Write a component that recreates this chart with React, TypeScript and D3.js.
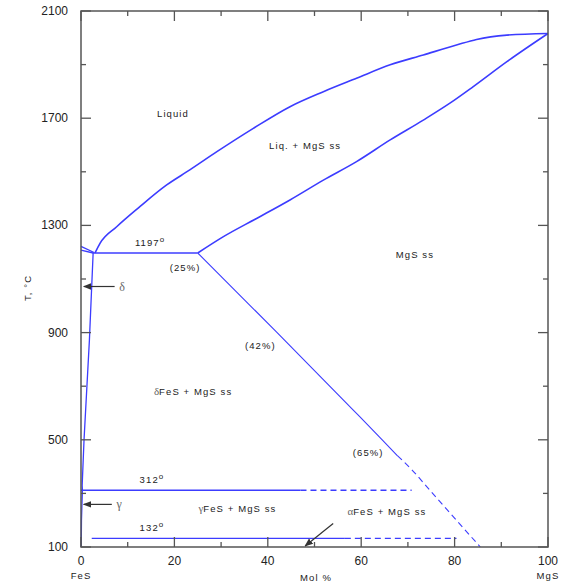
import React from "react";
import * as d3 from "d3";

// ---- data (mol % MgS, temperature °C) ----
const liquidusX = [3.0, 4.07, 7.64, 12.6, 18.35, 23.3, 29.1, 36.9, 44.75, 51.9, 59.0, 66.2, 73.3, 80.4, 84.7, 91.2, 100];
const liquidusT = [1197, 1233, 1295, 1370, 1451, 1507, 1575, 1662, 1743, 1799, 1849, 1899, 1936, 1973, 1994, 2010, 2016];

const solidusX = [25, 30.5, 37.6, 44.75, 51.9, 59.0, 66.2, 73.3, 79.0, 84.0, 91.2, 100];
const solidusT = [1197, 1258, 1326, 1395, 1469, 1538, 1619, 1693, 1756, 1818, 1911, 2016];

const mgsSolvusX = [25, 42, 58.3, 64.5, 67.8];
const mgsSolvusT = [1197, 900, 611, 500, 440];
const mgsSolvusDashX = [67.8, 70.9, 75.0, 85.5];
const mgsSolvusDashT = [440, 387, 306, 100];

const fesLiqX = [0, 2.8];
const fesLiqT = [1222, 1199];
const fesSolX = [0, 2.6];
const fesSolT = [1208, 1197];

const deltaSolvusX = [2.6, 1.8, 0.65, 0.25, 0.3];
const deltaSolvusT = [1197, 872, 500, 330, 312];
const gammaSolvusX = [0.3, 0.1, 0.05];
const gammaSolvusT = [312, 200, 100];

const eutecticX = [2.6, 25];
const eutecticT = 1197;
const t312SolidX = [0, 47];
const t312DashX = [47, 70.8];
const t312T = 312;
const t132SolidX = [2.3, 56.5];
const t132DashX = [56.5, 80.4];
const t132T = 132;

const xTicks = d3.range(0, 101, 10);
const xTickLabels = [0, 20, 40, 60, 80, 100];
const yTicks = d3.range(100, 2101, 200);
const yTickLabels = [100, 500, 900, 1300, 1700, 2100];

export default function App() {
  const W = 565, H = 585;
  const x = d3.scaleLinear().domain([0, 100]).range([81, 548]);
  const y = d3.scaleLinear().domain([100, 2100]).range([547, 11]);
  const line = d3.line<[number, number]>().x(d => x(d[0])).y(d => y(d[1]));
  const curve = d3.line<[number, number]>().x(d => x(d[0])).y(d => y(d[1])).curve(d3.curveMonotoneX);
  const zip = (a: number[], b: number[]) => a.map((v, i) => [v, b[i]] as [number, number]);

  const blue = "#3c3cff";
  const axisC = "#555";
  const font = "'Liberation Sans', Arial, sans-serif";
  const serif = "'Liberation Serif', 'DejaVu Serif', serif";
  const lab = { fontFamily: font, fontSize: 9.5, letterSpacing: 1.1, fill: "#222" } as const;
  const tickFont = { fontFamily: font, fontSize: 12, fill: "#222" } as const;

  const x0 = x(0), x1 = x(100), yTop = y(2100), yBot = y(100);

  return (
    <svg width={W} height={H} style={{ position: "absolute", left: 0, top: 0, background: "#fff" }}>
      <defs>
        <marker id="ah" viewBox="0 0 10 10" refX="9" refY="5" markerWidth="7" markerHeight="7" orient="auto">
          <path d="M0,1 L10,5 L0,9 z" fill="#333" />
        </marker>
      </defs>

      {/* phase boundaries */}
      <g fill="none" stroke={blue} strokeWidth={1.6}>
        <path d={curve(zip(liquidusX, liquidusT))!} />
        <path d={curve(zip(solidusX, solidusT))!} />
        <path d={line(zip(fesLiqX, fesLiqT))!} strokeWidth={1.3} />
        <path d={line(zip(fesSolX, fesSolT))!} strokeWidth={1.3} />
        <path d={line(zip(eutecticX, eutecticX.map(() => eutecticT)))!} />
        <path d={line(zip(deltaSolvusX, deltaSolvusT))!} strokeWidth={1.3} />
        <path d={line(zip(gammaSolvusX, gammaSolvusT))!} strokeWidth={1.3} />
        <path d={curve(zip(mgsSolvusX, mgsSolvusT))!} strokeWidth={1.1} />
        <path d={curve(zip(mgsSolvusDashX, mgsSolvusDashT))!} strokeWidth={1.1} strokeDasharray="6,4" />
        <path d={line(zip(t312SolidX, t312SolidX.map(() => t312T)))!} strokeWidth={1.4} />
        <path d={line(zip(t312DashX, t312DashX.map(() => t312T)))!} strokeWidth={1.4} strokeDasharray="6,4" />
        <path d={line(zip(t132SolidX, t132SolidX.map(() => t132T)))!} strokeWidth={1.4} />
        <path d={line(zip(t132DashX, t132DashX.map(() => t132T)))!} strokeWidth={1.4} strokeDasharray="6,4" />
      </g>

      {/* frame */}
      <rect x={x0} y={yTop} width={x1 - x0} height={yBot - yTop} fill="none" stroke={axisC} strokeWidth={1.5} />
      <g stroke={axisC} strokeWidth={1.3}>
        {xTicks.map(t => {
          const len = t % 20 === 0 ? 10 : 5;
          return (
            <g key={"x" + t}>
              <line x1={x(t)} x2={x(t)} y1={yBot} y2={yBot - len} />
              <line x1={x(t)} x2={x(t)} y1={yTop} y2={yTop + len} />
            </g>
          );
        })}
        {yTicks.map(t => {
          const len = (t - 100) % 400 === 0 ? 10 : 5;
          return (
            <g key={"y" + t}>
              <line x1={x0} x2={x0 + len} y1={y(t)} y2={y(t)} />
              <line x1={x1} x2={x1 - len} y1={y(t)} y2={y(t)} />
            </g>
          );
        })}
      </g>
      {xTickLabels.map(t => (
        <text key={"xl" + t} x={x(t)} y={yBot + 18} textAnchor="middle" {...tickFont}>{t}</text>
      ))}
      {yTickLabels.map(t => (
        <text key={"yl" + t} x={x0 - 13} y={y(t) + 4} textAnchor="end" {...tickFont}>{t}</text>
      ))}
      <text x={x(0)} y={579} textAnchor="middle" {...lab}>FeS</text>
      <text x={x(100)} y={579} textAnchor="middle" {...lab}>MgS</text>
      <text x={316} y={581} textAnchor="middle" {...lab}>Mol %</text>
      <text transform="translate(31,288) rotate(-90)" textAnchor="middle" {...lab}>T, °C</text>

      {/* region labels */}
      <text x={x(19.7)} y={y(1715) + 3} textAnchor="middle" {...lab}>Liquid</text>
      <text x={x(48)} y={y(1596) + 3} textAnchor="middle" {...lab}>Liq. + MgS ss</text>
      <text x={x(71.5)} y={y(1190) + 3} textAnchor="middle" {...lab}>MgS ss</text>
      <text x={x(14.8)} y={y(1197) - 7} textAnchor="middle" {...lab}>1197<tspan dy={-4} fontSize={8}>o</tspan></text>
      <text x={x(22.3)} y={y(1197) + 18} textAnchor="middle" {...lab}>(25%)</text>
      <text x={x(38.4)} y={y(850) + 3} textAnchor="middle" {...lab}>(42%)</text>
      <text x={x(61.5)} y={y(451) + 3} textAnchor="middle" {...lab}>(65%)</text>
      <text x={x(24)} y={y(680) + 3} textAnchor="middle" {...lab}>
        <tspan fontFamily={serif} fill="#666" fontSize={11} letterSpacing={0}>δ</tspan>FeS + MgS ss
      </text>
      <text x={x(15.2)} y={y(312) - 7} textAnchor="middle" {...lab}>312<tspan dy={-4} fontSize={8}>o</tspan></text>
      <text x={x(15.2)} y={y(132) - 7} textAnchor="middle" {...lab}>132<tspan dy={-4} fontSize={8}>o</tspan></text>
      <text x={x(33.5)} y={y(240) + 3} textAnchor="middle" {...lab}>
        <tspan fontFamily={serif} fill="#666" fontSize={11} letterSpacing={0}>γ</tspan>FeS + MgS ss
      </text>
      <text x={x(65.5)} y={y(230) + 3} textAnchor="middle" {...lab}>
        <tspan fontFamily={serif} fill="#666" fontSize={11} letterSpacing={0}>α</tspan>FeS + MgS ss
      </text>

      {/* arrows */}
      <line x1={x(7.2)} y1={y(1072)} x2={x(0.6)} y2={y(1072)} stroke="#333" strokeWidth={1.2} markerEnd="url(#ah)" />
      <text x={x(8.2)} y={y(1072) + 4} fontFamily={serif} fontSize={12} fill="#666">δ</text>
      <line x1={x(6.6)} y1={y(259)} x2={x(0.6)} y2={y(259)} stroke="#333" strokeWidth={1.2} markerEnd="url(#ah)" />
      <text x={x(7.6)} y={y(259) + 4} fontFamily={serif} fontSize={12} fill="#666">γ</text>
      <line x1={x(54)} y1={y(188)} x2={x(48)} y2={y(104)} stroke="#333" strokeWidth={1.2} markerEnd="url(#ah)" />
    </svg>
  );
}
